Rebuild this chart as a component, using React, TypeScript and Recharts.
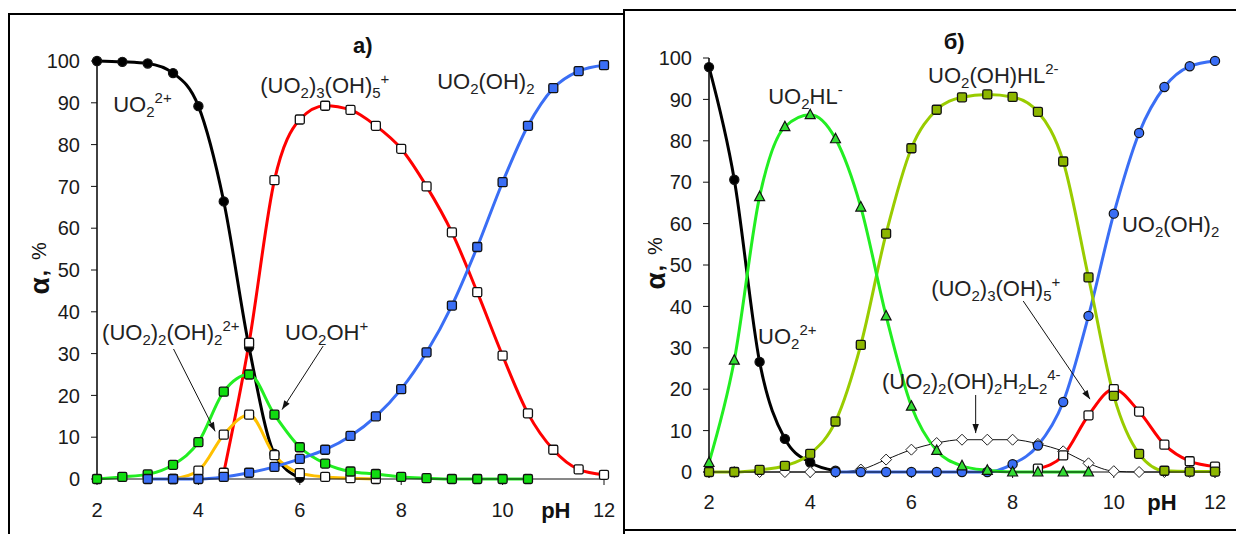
import React from 'react'
import { LineChart, Line, XAxis, YAxis, ReferenceDot, ReferenceLine } from 'recharts'

const FONT = '"Liberation Sans", Arial, sans-serif'

// pH grid shared by both panels
const PH = [2, 2.5, 3, 3.5, 4, 4.5, 5, 5.5, 6, 6.5, 7, 7.5, 8, 8.5, 9, 9.5, 10, 10.5, 11, 11.5, 12]
const X_TICKS = [2, 4, 6, 8, 10, 12]
const Y_TICKS = [0, 10, 20, 30, 40, 50, 60, 70, 80, 90, 100]

// panel a)
const aUO2 = [100, 99.8, 99.4, 97.1, 89.2, 66.4, 31.5, 6, 0.3, null, null, null, null, null, null, null, null, null, null, null, null]
const aTrimer = [null, null, null, null, null, 1.5, 32.6, 71.5, 86, 89.3, 88.3, 84.5, 79, 70, 59, 44.7, 29.5, 15.7, 7, 2.3, 1]
const aDimer = [null, null, null, 0, 2, 10.6, 15.4, 5.7, 1.4, 0.5, 0.2, 0, null, null, null, null, null, null, null, null, null]
const aUO2OH = [0, 0.5, 1.1, 3.4, 8.8, 20.9, 25, 15.4, 7.6, 3.7, 1.8, 1.2, 0.5, 0.2, 0, 0, 0, 0, null, null, null]
const aUO2OH2 = [null, null, 0, 0, 0, 0.5, 1.5, 2.9, 4.8, 7, 10.3, 15, 21.5, 30.3, 41.5, 55.5, 71, 84.5, 93.5, 97.6, 99]

// panel б)
const bUO2 = [97.8, 70.6, 26.6, 8, 2.3, 0.3, null, null, null, null, null, null, null, null, null, null, null, null, null, null, null]
const bUO2HL = [2.3, 27, 66.5, 83.4, 86.3, 80.5, 64, 37.7, 15.9, 5.2, 1.5, 0.4, 0, 0, 0, 0, null, null, null, null, null]
const bUO2OHHL = [0, 0, 0.5, 1.5, 4.4, 12.2, 30.7, 57.6, 78.2, 87.5, 90.5, 91.2, 90.6, 87, 75, 47, 18.4, 4.4, 0.3, 0.1, 0.1]
const bDimerL = [0, 0, 0, 0, 0, 0, 0.6, 3, 5.4, 7, 7.8, 7.8, 7.8, 6.8, 5, 2.1, 0.2, 0, 0, 0, 0]
const bUO2OH2 = [null, null, null, null, null, 0, 0, 0, 0, 0, 0, 0, 1.9, 6.4, 16.9, 37.7, 62.4, 81.9, 93, 98, 99.3]
const bTrimer = [null, null, null, null, null, null, null, null, null, null, null, null, null, 0.8, 4, 13.7, 20, 14.6, 6.6, 2.6, 1.3]

// annotations (data coordinates of left end / baseline)
const aLabels = [
  { f: 'UO_{2}^{2+}', x: 2.32, y: 87.8 },
  { f: '(UO_{2})_{3}(OH)_{5}^{+}', x: 5.22, y: 92.3 },
  { f: 'UO_{2}(OH)_{2}', x: 8.71, y: 93.3 },
  { f: '(UO_{2})_{2}(OH)_{2}^{2+}', x: 2.1, y: 33.3 },
  { f: 'UO_{2}OH^{+}', x: 5.71, y: 33.3 },
]
const aArrows = [
  { from: [3.51, 31.1], to: [4.33, 11.4] },
  { from: [6.46, 31.8], to: [5.65, 16.6] },
]
const bLabels = [
  { f: 'UO_{2}HL^{-}', x: 3.17, y: 88.9 },
  { f: 'UO_{2}(OH)HL^{2-}', x: 6.33, y: 94 },
  { f: 'UO_{2}(OH)_{2}', x: 10.16, y: 58 },
  { f: '(UO_{2})_{3}(OH)_{5}^{+}', x: 6.39, y: 42.5 },
  { f: 'UO_{2}^{2+}', x: 2.97, y: 31 },
  { f: '(UO_{2})_{2}(OH)_{2}H_{2}L_{2}^{4-}', x: 5.42, y: 20 },
]
const bArrows = [
  { from: [8.21, 41.3], to: [9.53, 17.6] },
  { from: [7.27, 18.6], to: [7.27, 9.4] },
]

const table = (series: Record<string, (number | null)[]>) =>
  PH.map((ph, i) => {
    const row: any = { ph }
    for (const k in series) row[k] = series[k][i]
    return row
  })

const dataA = table({ uo2: aUO2, trimer: aTrimer, dimer: aDimer, uo2oh: aUO2OH, uo2oh2: aUO2OH2 })
const dataB = table({ uo2: bUO2, hl: bUO2HL, ohhl: bUO2OHHL, dimerL: bDimerL, uo2oh2: bUO2OH2, trimer: bTrimer })

const bad = (p: any) => p.cx == null || p.cy == null || isNaN(p.cx) || isNaN(p.cy) || p.value == null

const squareDot = (fill: string) => (p: any) =>
  bad(p) ? <g key={p.index} /> : (
    <rect key={p.index} x={p.cx - 4.5} y={p.cy - 4.5} width={9} height={9} rx={1.5} fill={fill} stroke="#111" strokeWidth={1.3} />
  )
const circleDot = (fill: string) => (p: any) =>
  bad(p) ? <g key={p.index} /> : <circle key={p.index} cx={p.cx} cy={p.cy} r={4.6} fill={fill} stroke="#111" strokeWidth={1.2} />
const triangleDot = (fill: string) => (p: any) =>
  bad(p) ? <g key={p.index} /> : (
    <polygon key={p.index} points={`${p.cx},${p.cy - 5.5} ${p.cx + 5},${p.cy + 4} ${p.cx - 5},${p.cy + 4}`} fill={fill} stroke="#111" strokeWidth={1.2} />
  )
const diamondDot = (p: any) =>
  bad(p) ? <g key={p.index} /> : (
    <polygon key={p.index} points={`${p.cx},${p.cy - 5.5} ${p.cx + 5.5},${p.cy} ${p.cx},${p.cy + 5.5} ${p.cx - 5.5},${p.cy}`} fill="#fff" stroke="#222" strokeWidth={1} />
  )

function Chem({ x, y, f }: { x: number; y: number; f: string }) {
  const parts: React.ReactNode[] = []
  const re = /([_^])\{([^}]*)\}|([^_^]+)/g
  let m: RegExpExecArray | null
  let cur = 0
  while ((m = re.exec(f))) {
    const kind = m[1] === '_' ? 'sub' : m[1] === '^' ? 'sup' : 'n'
    const off = kind === 'sub' ? 5 : kind === 'sup' ? -9 : 0
    parts.push(
      <tspan key={parts.length} dy={off - cur} fontSize={kind === 'n' ? 22 : 15}>
        {m[2] ?? m[3]}
      </tspan>,
    )
    cur = off
  }
  return (
    <text x={x} y={y} fontFamily={FONT} fontSize={22} fill="#222">
      {parts}
    </text>
  )
}

const Arrow = (p: any) => {
  const { x1, y1, x2, y2 } = p
  const a = Math.atan2(y2 - y1, x2 - x1)
  const L = 9
  const W = 3.2
  const bx = x2 - L * Math.cos(a)
  const by = y2 - L * Math.sin(a)
  const pts = `${x2},${y2} ${bx + W * Math.sin(a)},${by - W * Math.cos(a)} ${bx - W * Math.sin(a)},${by + W * Math.cos(a)}`
  return (
    <g>
      <line x1={x1} y1={y1} x2={x2} y2={y2} stroke="#111" strokeWidth={1} />
      <polygon points={pts} fill="#111" />
    </g>
  )
}

const tickStyle = { fontSize: 20, fill: '#1a1a1a', fontFamily: FONT }

function Annotations(labels: any[], arrows: any[], title: string, titleX: number, titleY: number, alphaX: number, phX: number, phDy: number) {
  return [
    ...labels.map((l, i) => (
      <ReferenceDot key={'l' + i} x={l.x} y={l.y} ifOverflow="visible" shape={(p: any) => <Chem x={p.cx} y={p.cy} f={l.f} />} />
    )),
    ...arrows.map((a, i) => (
      <ReferenceLine
        key={'a' + i}
        ifOverflow="visible"
        segment={[{ x: a.from[0], y: a.from[1] }, { x: a.to[0], y: a.to[1] }]}
        shape={Arrow}
      />
    )),
    <ReferenceDot
      key="title"
      x={titleX}
      y={titleY}
      ifOverflow="visible"
      shape={(p: any) => (
        <text x={p.cx} y={p.cy} fontFamily={FONT} fontSize={22} fontWeight="bold" fill="#111">
          {title}
        </text>
      )}
    />,
    <ReferenceDot
      key="alpha"
      x={alphaX}
      y={50.4}
      ifOverflow="visible"
      shape={(p: any) => (
        <text
          x={p.cx}
          y={p.cy}
          transform={`rotate(-90 ${p.cx} ${p.cy})`}
          textAnchor="middle"
          dominantBaseline="central"
          fontFamily={FONT}
          fill="#111"
        >
          <tspan fontSize={28} fontWeight="bold">α</tspan>
          <tspan fontSize={22} fontWeight="bold" dx={1}>,</tspan>
          <tspan fontSize={20} dx={10}>%</tspan>
        </text>
      )}
    />,
    <ReferenceDot
      key="ph"
      x={phX}
      y={0}
      ifOverflow="visible"
      shape={(p: any) => (
        <text x={p.cx} y={p.cy + phDy} textAnchor="middle" fontFamily={FONT} fontSize={22} fontWeight="bold" fill="#111">
          pH
        </text>
      )}
    />,
  ]
}

export default function App() {
  const common = { isAnimationActive: false, activeDot: false, type: 'monotone' as const }
  return (
    <div style={{ position: 'absolute', left: 0, top: 0, width: 1236, height: 534, overflow: 'hidden', background: '#fff' }}>
      <div style={{ position: 'absolute', left: 8, top: 13, width: 617, height: 600, border: '2px solid #000', boxSizing: 'border-box' }} />
      <div style={{ position: 'absolute', left: 623, top: 9, width: 640, height: 522, border: '2px solid #000', boxSizing: 'border-box', background: '#fff' }} />

      <div style={{ position: 'absolute', left: 0, top: 0 }}>
        <LineChart width={620} height={534} data={dataA} margin={{ top: 61, right: 16, bottom: 25, left: 40 }}>
          <XAxis
            dataKey="ph"
            type="number"
            domain={[2, 12]}
            ticks={X_TICKS}
            height={30}
            tick={tickStyle}
            tickSize={6}
            tickMargin={18}
            axisLine={{ stroke: '#111' }}
            tickLine={{ stroke: '#111' }}
          />
          <YAxis
            domain={[0, 100]}
            ticks={Y_TICKS}
            interval={0}
            width={57}
            tick={tickStyle}
            tickSize={6}
            tickMargin={11}
            axisLine={{ stroke: '#111', strokeWidth: 1.6 }}
            tickLine={{ stroke: '#111' }}
          />
          <Line {...common} dataKey="uo2" stroke="#000" strokeWidth={3} dot={circleDot('#000')} />
          <Line {...common} dataKey="trimer" stroke="#ff0000" strokeWidth={3} dot={squareDot('#fff')} />
          <Line {...common} dataKey="dimer" stroke="#ffc000" strokeWidth={3} dot={squareDot('#fff')} />
          <Line {...common} dataKey="uo2oh" stroke="#22ee22" strokeWidth={3} dot={squareDot('#11dd11')} />
          <Line {...common} dataKey="uo2oh2" stroke="#3a6ef5" strokeWidth={3} dot={squareDot('#3a6ef5')} />
          {Annotations(aLabels, aArrows, 'a)', 7.05, 101.9, 0.86, 11.05, 39)}
        </LineChart>
      </div>

      <div style={{ position: 'absolute', left: 620, top: 0 }}>
        <LineChart width={616} height={534} data={dataB} margin={{ top: 58, right: 21, bottom: 32, left: 32 }}>
          <XAxis
            dataKey="ph"
            type="number"
            domain={[2, 12]}
            ticks={X_TICKS}
            height={30}
            tick={tickStyle}
            tickSize={6}
            tickMargin={17}
            axisLine={{ stroke: '#111' }}
            tickLine={{ stroke: '#111' }}
          />
          <YAxis
            domain={[0, 100]}
            ticks={Y_TICKS}
            interval={0}
            width={57}
            tick={tickStyle}
            tickSize={6}
            tickMargin={11}
            axisLine={{ stroke: '#111', strokeWidth: 1.6 }}
            tickLine={{ stroke: '#111' }}
          />
          <Line {...common} dataKey="uo2" stroke="#000" strokeWidth={3} dot={circleDot('#000')} />
          <Line {...common} dataKey="dimerL" stroke="#111" strokeWidth={1} dot={diamondDot} />
          <Line {...common} dataKey="uo2oh2" stroke="#3a6ef5" strokeWidth={3} dot={circleDot('#3a6ef5')} />
          <Line {...common} dataKey="trimer" stroke="#ff0000" strokeWidth={3} dot={squareDot('#fff')} />
          <Line {...common} dataKey="ohhl" stroke="#99cc00" strokeWidth={3} dot={squareDot('#8db600')} />
          <Line {...common} dataKey="hl" stroke="#22ee22" strokeWidth={3} dot={triangleDot('#33dd33')} />
          {Annotations(bLabels, bArrows, 'б)', 6.64, 102.2, 0.93, 10.95, 38)}
        </LineChart>
      </div>
    </div>
  )
}
